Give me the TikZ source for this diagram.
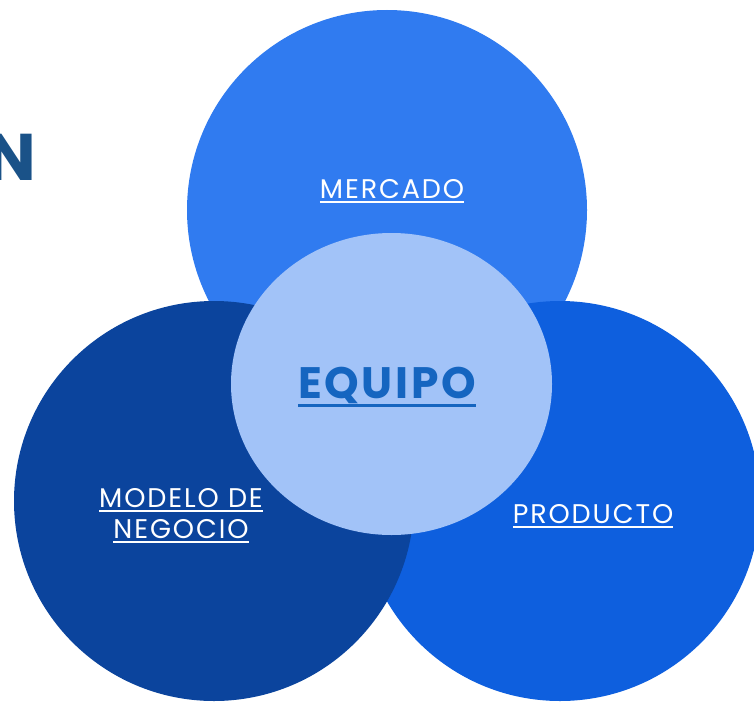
\documentclass[tikz,border=0pt]{standalone}
\usepackage{fontspec}
\setmainfont{Poppins}
\newfontfamily\labelfont[LetterSpace=7]{Poppins}
\newfontfamily\equipofont[LetterSpace=6]{Poppins}
\usepackage{xcolor}
\usetikzlibrary{shapes.geometric}

\definecolor{mercadoblue}{RGB}{48,123,240}
\definecolor{productoblue}{RGB}{14,95,222}
\definecolor{modeloblue}{RGB}{11,68,157}
\definecolor{equipofill}{RGB}{162,195,248}
\definecolor{equipotext}{RGB}{21,101,192}
\definecolor{titleblue}{RGB}{26,82,136}

% underlined text with a thick rule
\newcommand{\ultext}[1]{\setbox0\hbox{#1}\rlap{\copy0}\rule[-0.2em]{\wd0}{0.075em}}

\begin{document}
\begin{tikzpicture}[x=1pt, y=-1pt,
		bigcircle/.style={circle, inner sep=0pt, minimum size=400pt},
		circlelabel/.style={anchor=base, text=white, inner sep=0pt, font=\labelfont\fontsize{27}{31}\selectfont}]
				\useasboundingbox (0,0) rectangle (754,701);
				\node[anchor=base east, inner sep=0pt, text=titleblue, font=\fontsize{66}{70}\selectfont\bfseries] (title) at (36,180){N};
				\node[bigcircle, fill=mercadoblue]  (mercado)  at (387,210){};
				\node[bigcircle, fill=productoblue] (producto) at (560,501){};
				\node[bigcircle, fill=modeloblue]   (modelo)   at (214,501){};
				\node[ellipse, inner sep=0pt, fill=equipofill, minimum width=321pt, minimum height=302pt] (equipo) at (391.5,384){};
				\node[circlelabel] (mercadotext)  at (392,198){\ultext{MERCADO}};
				\node[circlelabel] (productotext) at (593,523){\ultext{PRODUCTO}};
				\node[circlelabel] (modelotext1)  at (181,507){\ultext{MODELO DE}};
				\node[circlelabel] (modelotext2)  at (181,538){\ultext{NEGOCIO}};
				\node[anchor=base, inner sep=0pt, text=equipotext, font=\equipofont\fontsize{44}{48}\selectfont\bfseries] (equipotext) at (387,398){\ultext{EQUIPO}};
			\end{tikzpicture}
\end{document}
